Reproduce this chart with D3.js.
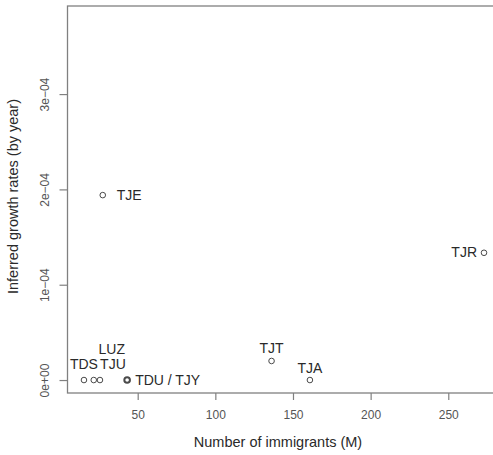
<!DOCTYPE html>
<html>
<head>
<meta charset="utf-8">
<script src="https://cdn.jsdelivr.net/npm/d3@7"></script>
<style>
  html, body { margin: 0; padding: 0; background: #fff; }
  svg { display: block; font-family: "Liberation Sans", Arial, Helvetica, sans-serif; }
</style>
</head>
<body>
<script>
// Populations and their estimates
const populations = ["TDS", "LUZ", "TJU", "TDU / TJY", "TJE", "TJT", "TJA", "TJR"];
const immigrants  = [15.4, 21.7, 25.7, 43.2, 27.5, 136.2, 160.9, 273.0];   // M
const growthRates = [0, 0, 0, 0, 1.94e-4, 0.20e-4, 0, 1.335e-4];            // per year

// Axis ticks
const xTicks = [50, 100, 150, 200, 250];
const yTicks = [0, 1e-4, 2e-4, 3e-4];
const yTickLabels = ["0e+00", "1e\u221204", "2e\u221204", "3e\u221204"];

// Label placement for each point (side, pixel nudge)
const labelPlacement = {
  "TDS":       { pos: "above", dx: 0,  dy: -11 },
  "LUZ":       { pos: "above", dx: 18, dy: -26 },
  "TJU":       { pos: "above", dx: 13, dy: -11 },
  "TDU / TJY": { pos: "right", dx: 8,  dy: 5 },
  "TJE":       { pos: "right", dx: 14, dy: 5 },
  "TJT":       { pos: "above", dx: 0,  dy: -8 },
  "TJA":       { pos: "above", dx: 0,  dy: -7.5 },
  "TJR":       { pos: "left",  dx: -7, dy: 4.5 }
};

const W = 493, H = 455;
const svg = d3.select("body").append("svg").attr("width", W).attr("height", H);

const plot = { left: 67.5, right: 500, top: 6, bottom: 393 };

const x = d3.scaleLinear().domain([4.8, 283.3]).range([plot.left, plot.right]);
const y = d3.scaleLinear().domain([-0.136e-4, 3.924e-4]).range([plot.bottom, plot.top]);

const axisColor = "#808080";
const tickTextColor = "#555";
const textColor = "#2a2a2a";

// Frame
svg.append("rect")
  .attr("x", plot.left).attr("y", plot.top)
  .attr("width", plot.right - plot.left).attr("height", plot.bottom - plot.top)
  .attr("fill", "none").attr("stroke", axisColor).attr("stroke-width", 1.3);

// X axis
const xAxis = d3.axisBottom(x).tickValues(xTicks).tickSize(7).tickPadding(10).tickFormat(d3.format("d"));
const gx = svg.append("g").attr("transform", `translate(0,${plot.bottom})`).call(xAxis);
gx.select(".domain").remove();
gx.selectAll(".tick line").attr("stroke", axisColor).attr("stroke-width", 1.2);
gx.selectAll(".tick text").attr("fill", tickTextColor).style("font-size", "12px");

// Y axis
const yAxis = d3.axisLeft(y).tickValues(yTicks).tickSize(8).tickFormat((d, i) => yTickLabels[i]);
const gy = svg.append("g").attr("transform", `translate(${plot.left},0)`).call(yAxis);
gy.select(".domain").remove();
gy.selectAll(".tick line").attr("stroke", axisColor).attr("stroke-width", 1.2);
gy.selectAll(".tick text")
  .attr("fill", tickTextColor).style("font-size", "12px")
  .attr("x", 0).attr("dy", null)
  .attr("text-anchor", "middle")
  .attr("transform", "translate(-22.5,0) rotate(-90)")
  .attr("dominant-baseline", "central");

// Axis titles
svg.append("text")
  .attr("x", 278).attr("y", 447)
  .attr("text-anchor", "middle")
  .attr("fill", textColor).style("font-size", "14.5px")
  .text("Number of immigrants (M)");

svg.append("text")
  .attr("transform", `translate(18,${(plot.top + plot.bottom) / 2 - 3}) rotate(-90)`)
  .attr("text-anchor", "middle")
  .attr("fill", textColor).style("font-size", "14.5px")
  .text("Inferred growth rates (by year)");

// Points
const data = populations.map((name, i) => ({ name, x: immigrants[i], y: growthRates[i] }));

svg.append("g").selectAll("circle").data(data).join("circle")
  .attr("cx", d => x(d.x)).attr("cy", d => y(d.y)).attr("r", 2.8)
  .attr("fill", "none").attr("stroke", "#4a4a4a")
  .attr("stroke-width", d => d.name === "TDU / TJY" ? 2 : 1);

// Point labels
svg.append("g").selectAll("text").data(data).join("text")
  .attr("x", d => x(d.x) + labelPlacement[d.name].dx)
  .attr("y", d => y(d.y) + labelPlacement[d.name].dy)
  .attr("text-anchor", d => {
    const p = labelPlacement[d.name].pos;
    return p === "right" ? "start" : p === "left" ? "end" : "middle";
  })
  .attr("fill", textColor).style("font-size", "14px")
  .text(d => d.name);
</script>
</body>
</html>
